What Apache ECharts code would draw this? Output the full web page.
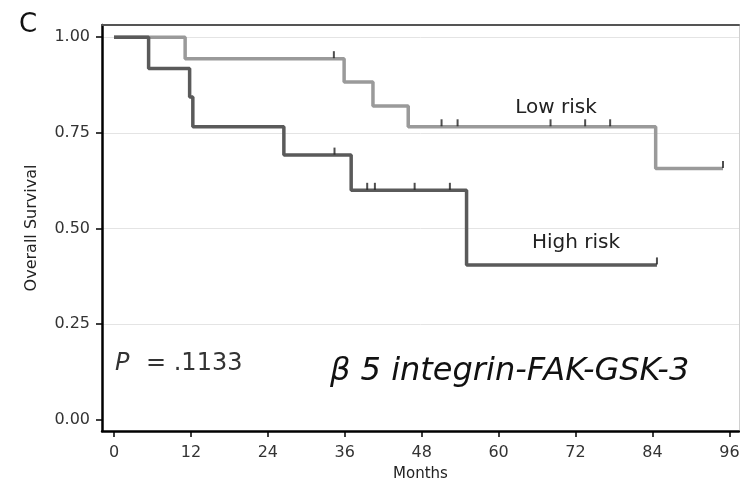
<!DOCTYPE html>
<html>
<head>
<meta charset="utf-8">
<script src="https://cdn.jsdelivr.net/npm/echarts@6/dist/echarts.min.js"></script>
<style>
html, body { margin: 0; padding: 0; background: #fff; }
#chart-container { width: 740px; height: 485px; }
</style>
</head>
<body>
<div id="chart-container"></div>
<script>
var monthTicks = [0, 12, 24, 36, 48, 60, 72, 84, 96];
var survivalTicks = [0, 0.25, 0.5, 0.75, 1];

// Kaplan-Meier steps: [month, survival]
var lowRisk = [[0, 1], [11.1, 0.944], [35.9, 0.883], [40.4, 0.82], [45.9, 0.766], [84.5, 0.657], [95.0, 0.657]];
var highRisk = [[0, 1], [5.4, 0.918], [11.8, 0.844], [12.3, 0.766], [26.5, 0.692], [37.0, 0.600], [55.0, 0.405], [84.7, 0.405]];
// censored patients
var lowCensored = [[34.3, 0.944], [51.1, 0.766], [53.6, 0.766], [68.1, 0.766], [73.5, 0.766], [77.4, 0.766], [95.0, 0.657]];
var highCensored = [[34.4, 0.692], [39.5, 0.600], [40.7, 0.600], [46.9, 0.600], [52.4, 0.600], [84.7, 0.405]];

var dom = document.getElementById('chart-container');
var myChart = echarts.init(dom, null, { renderer: 'canvas' });

var font = 'DejaVu Sans';
var tickFont = { fontFamily: font, fontSize: 16, color: '#333' };

var option = {
  animation: false,
  backgroundColor: '#fff',
  grid: { left: 102, right: 1, top: 25, bottom: 54, outerBoundsMode: 'none' },
  xAxis: [{
    type: 'value',
    min: -1.87,
    max: 97.5,
    name: 'Months',
    nameLocation: 'middle',
    nameGap: 36,
    nameTextStyle: { fontFamily: font, fontSize: 15, color: '#222' },
    axisLine: { onZero: false, lineStyle: { color: '#000', width: 2.5 } },
    axisTick: { customValues: monthTicks, length: 6, lineStyle: { color: '#000', width: 1.5 } },
    axisLabel: Object.assign({ customValues: monthTicks, margin: 14 }, tickFont),
    splitLine: { show: false }
  }, {
    type: 'value',
    position: 'top',
    min: -1.87,
    max: 97.5,
    axisLine: { onZero: false, lineStyle: { color: '#555', width: 2 } },
    axisTick: { show: false },
    axisLabel: { show: false },
    splitLine: { show: false }
  }],
  yAxis: [{
    type: 'value',
    min: -0.029,
    max: 1.032,
    name: 'Overall Survival',
    nameLocation: 'middle',
    nameGap: 62,
    nameTextStyle: { fontFamily: font, fontSize: 16, color: '#222' },
    axisLine: { onZero: false, lineStyle: { color: '#000', width: 2.5 } },
    axisTick: { customValues: survivalTicks, length: 6, lineStyle: { color: '#000', width: 1.5 } },
    axisLabel: Object.assign({
      customValues: survivalTicks,
      margin: 12,
      formatter: function (v) { return v.toFixed(2); }
    }, tickFont),
    splitLine: {
      show: true,
      lineStyle: { color: ['rgba(0,0,0,0)', '#e4e4e4', '#e4e4e4', '#e4e4e4', '#e4e4e4'], width: 1 }
    }
  }, {
    type: 'value',
    position: 'right',
    min: -0.029,
    max: 1.032,
    axisLine: { onZero: false, lineStyle: { color: '#d0d0d0', width: 1 } },
    axisTick: { show: false },
    axisLabel: { show: false },
    splitLine: { show: false }
  }],
  series: [{
    name: 'Low risk',
    type: 'line',
    step: 'end',
    data: lowRisk,
    symbol: 'none',
    lineStyle: { color: '#9a9a9a', width: 3.5 },
    z: 2
  }, {
    name: 'High risk',
    type: 'line',
    step: 'end',
    data: highRisk,
    symbol: 'none',
    lineStyle: { color: '#5a5a5a', width: 3.5 },
    z: 3
  }, {
    type: 'scatter',
    data: lowCensored,
    symbol: 'rect',
    symbolSize: [2, 7],
    symbolOffset: [0, -4],
    itemStyle: { color: '#222' },
    z: 4
  }, {
    type: 'scatter',
    data: highCensored,
    symbol: 'rect',
    symbolSize: [2, 7],
    symbolOffset: [0, -4],
    itemStyle: { color: '#222' },
    z: 4
  }],
  graphic: [
    { type: 'text', x: 28, y: 25, style: { text: 'C', font: '26px "DejaVu Sans"', fill: '#111', textAlign: 'center', textVerticalAlign: 'middle' } },
    { type: 'text', x: 556, y: 108, style: { text: 'Low risk', font: '20px "DejaVu Sans"', fill: '#222', textAlign: 'center', textVerticalAlign: 'middle' } },
    { type: 'text', x: 576, y: 243, style: { text: 'High risk', font: '20px "DejaVu Sans"', fill: '#222', textAlign: 'center', textVerticalAlign: 'middle' } },
    { type: 'text', x: 115, y: 364, style: { text: 'P', font: 'italic 24px "DejaVu Sans"', fill: '#333', textAlign: 'left', textVerticalAlign: 'middle' } },
    { type: 'text', x: 146, y: 364, style: { text: '= .1133', font: '24px "DejaVu Sans"', fill: '#333', textAlign: 'left', textVerticalAlign: 'middle' } },
    { type: 'text', x: 330, y: 372, style: { text: 'β 5 integrin-FAK-GSK-3', font: 'italic 32px "DejaVu Sans"', fill: '#111', textAlign: 'left', textVerticalAlign: 'middle' } }
  ]
};

myChart.setOption(option);
window.addEventListener('resize', myChart.resize);
</script>
</body>
</html>
